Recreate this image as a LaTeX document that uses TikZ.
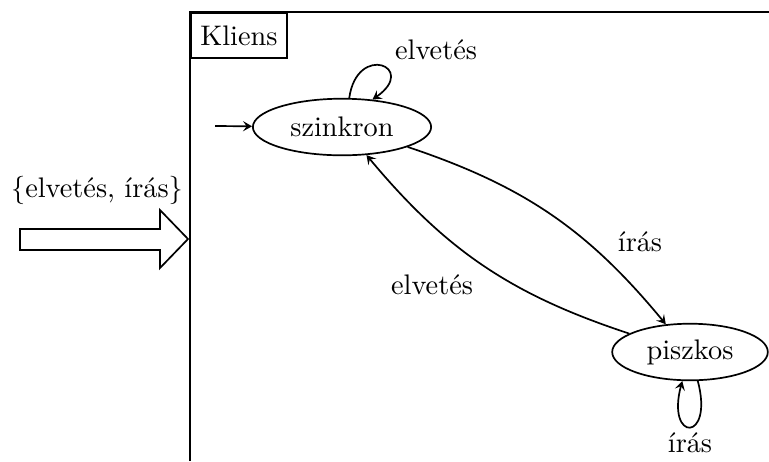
\documentclass[tikz,border=0pt]{standalone}
\usepackage{fontspec}
\usetikzlibrary{shapes.geometric, arrows.meta}
\begin{document}
\begin{tikzpicture}[x=0.3534pt, y=0.3534pt, line width=0.6pt]
	\tikzset{edge/.style={-{Stealth[length=3.2pt, width=3.6pt, inset=1.3pt]}}, state/.style={draw, ellipse, inner sep=0pt, minimum height=20pt}}
	\useasboundingbox (0,0) rectangle (769,461);
	\draw (190,0) -- (190,449) -- (769,449);
	\node(kliens)[draw, anchor=north west, minimum width=34pt, minimum height=16pt] at (190,449){Kliens};
	\node(bemenet) at (97,271){\{elvetés, írás\}};
	\draw (20,211) -- (160,211) -- (160,193) -- (188,222) -- (160,251) -- (160,232) -- (20,232) -- cycle;
	\node(szinkron)[state, minimum width=63pt] at (342,334){szinkron};
	\node(piszkos)[state, minimum width=55pt] at (690,109){piszkos};
	\coordinate(start) at (215,335);
	\draw[edge] (start) -- (szinkron);
	\draw[edge] (szinkron.76) to[out=82, in=35, looseness=6.2] (szinkron.42);
	\node(elvetes1) at (436,411){elvetés};
	\draw[edge] (piszkos.285) to[out=285, in=255, looseness=10.5] (piszkos.255);
	\node(iras1) at (690,18){írás};
	\draw[edge] (szinkron) to[bend left=16] (piszkos);
	\node(iras2) at (640,219){írás};
	\draw[edge] (piszkos) to[bend left=16] (szinkron);
	\node(elvetes2) at (432,176){elvetés};
\end{tikzpicture}
\end{document}
